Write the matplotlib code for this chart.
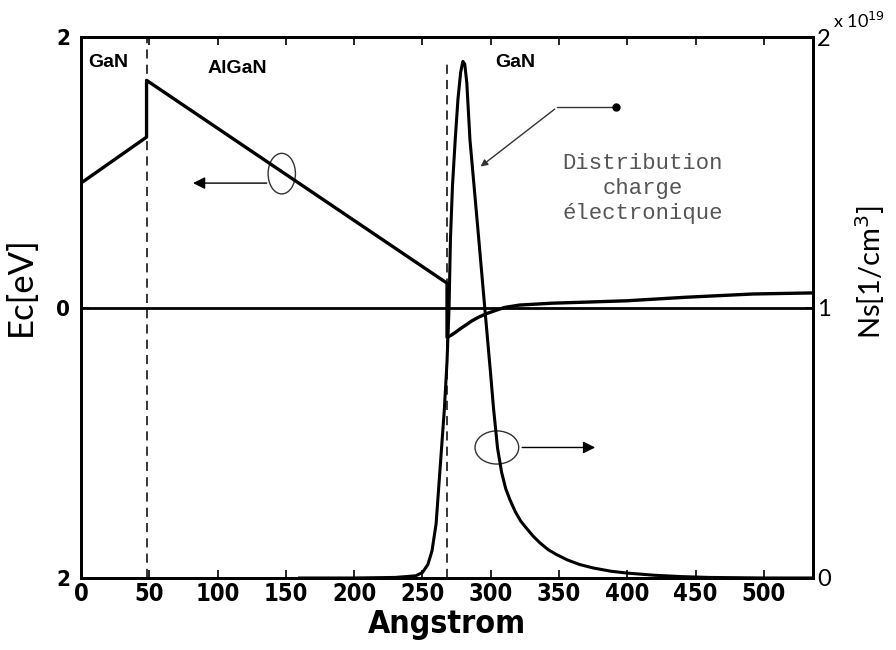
import matplotlib
matplotlib.use('Agg')
import matplotlib.pyplot as plt
from matplotlib.patches import Ellipse

# bande de conduction Ec (axe gauche, eV)
x_ec = [0, 48, 48, 268, 268, 271, 274, 278, 282, 286, 291, 297, 304, 310, 321, 345, 370, 400, 443,
        492, 536]
ec = [0.92, 1.26, 1.68, 0.18, -0.22, -0.205, -0.185, -0.155, -0.128, -0.1, -0.072, -0.045, -0.02,
      0.0, 0.018, 0.032, 0.04, 0.05, 0.076, 0.10, 0.108]

# distribution de charge Ns (axe droit, x 1e19 cm-3)
x_ns = [160, 200, 230, 245, 250, 254, 257, 260, 263, 266, 268, 269.5, 270.5, 272, 274, 276, 278,
        279.6, 281, 282.5, 284.8, 290.6, 295.8, 300, 302, 305, 308, 311, 314, 318, 322, 326, 331,
        336, 342, 348, 356, 365, 375, 388, 400, 420, 440, 460, 500, 536]
ns = [0, 0, 0.002, 0.008, 0.02, 0.05, 0.1, 0.2, 0.41, 0.62, 0.8, 1.0, 1.25, 1.45, 1.62, 1.77,
      1.87, 1.91, 1.9, 1.83, 1.62, 1.29, 0.99, 0.75, 0.63, 0.48, 0.39, 0.33, 0.29, 0.245, 0.21,
      0.185, 0.155, 0.13, 0.105, 0.087, 0.067, 0.05, 0.037, 0.025, 0.018, 0.01, 0.005, 0.002,
      0.0, 0.0]

x_ticks = [0, 50, 100, 150, 200, 250, 300, 350, 400, 450, 500]
interfaces = [48, 268]
couches = ['GaN', 'AlGaN', 'GaN']

sans = ['Liberation Sans', 'DejaVu Sans']
calib = ['Lato', 'DejaVu Sans']
cond = dict(family='DejaVu Sans', stretch='condensed', weight='bold')

fig = plt.figure(figsize=(8.96, 6.5), dpi=100)
ax = fig.add_axes([0.0904, 0.1108, 0.817, 0.8322])
ax2 = ax.twinx()

ax.plot(x_ec, ec, color='black', lw=2.4)
ax.axhline(0, color='black', lw=2)
ax2.plot(x_ns, ns, color='black', lw=2.2)

ax.vlines(interfaces[0], -2, 2, colors='black', linestyles=(0, (6, 4)), lw=1.1)
ax.vlines(interfaces[1], -2, 1.82, colors='black', linestyles=(0, (6, 4)), lw=1.1)

ax.set_xlim(0, 536)
ax.set_ylim(-2, 2)
ax2.set_ylim(0, 2)

ax.set_xticks(x_ticks)
ax.set_xticklabels([str(v) for v in x_ticks], fontsize=17, **cond)
ax.set_yticks([-2, 0, 2])
ax.set_yticklabels(['2', '0', '2'], fontsize=16, **cond)
ax2.set_yticks([0, 1, 2])
ax2.set_yticklabels(['0', '1', '2'], family=calib, fontsize=17)

ax.tick_params(axis='both', direction='in', length=6, width=1.2, top=True, pad=3)
ax.tick_params(axis='y', pad=8)
ax2.tick_params(axis='y', direction='in', length=6, width=1.2, pad=3)
for a in (ax, ax2):
    for s in a.spines.values():
        s.set_linewidth(2)

ax.set_xlabel('Angstrom', fontsize=23, labelpad=2, **cond)
ax.set_ylabel('Ec[eV]', family=calib, fontsize=25)
ax.yaxis.set_label_coords(-0.06, 0.54)
ax2.set_ylabel('Ns[1/cm$^3$]', family=calib, fontsize=21)
ax2.yaxis.set_label_coords(1.055, 0.565)
fig.text(0.93, 0.968, 'x 10$^{19}$', family=calib, fontsize=13, va='center')

# noms des couches
ax.text(5, 1.81, couches[0], family=sans, weight='bold', fontsize=14, va='center')
ax.text(93, 1.77, couches[1], family=sans, weight='bold', fontsize=14, va='center')
ax.text(303, 1.81, couches[2], family=sans, weight='bold', fontsize=14, va='center')

# annotation distribution
ax.text(411, 0.88, 'Distribution\ncharge\nélectronique', family=['Liberation Mono', 'DejaVu Sans Mono'],
        fontsize=16, color='#555555', ha='center', va='center', linespacing=1.25)
ax.plot([392, 348.5], [1.48, 1.48], color='#333333', lw=1)
ax.plot([392], [1.48], 'o', color='black', ms=5)
ax.annotate('', xy=(291, 1.03), xytext=(348.5, 1.48),
            arrowprops=dict(arrowstyle='-|>', color='#333333', lw=1, mutation_scale=10))

# ellipses et flèches vers les axes
ax.add_patch(Ellipse((147, 0.99), 20, 0.3, fill=False, color='#333333', lw=1))
ax.annotate('', xy=(80, 0.92), xytext=(138, 0.92),
            arrowprops=dict(arrowstyle='-|>', color='black', lw=1, mutation_scale=18))
ax.add_patch(Ellipse((304.5, -1.035), 32, 0.245, fill=False, color='#333333', lw=1))
ax.annotate('', xy=(378.5, -1.035), xytext=(321, -1.035),
            arrowprops=dict(arrowstyle='-|>', color='black', lw=1, mutation_scale=18))

fig.savefig('out.png', dpi=100)
